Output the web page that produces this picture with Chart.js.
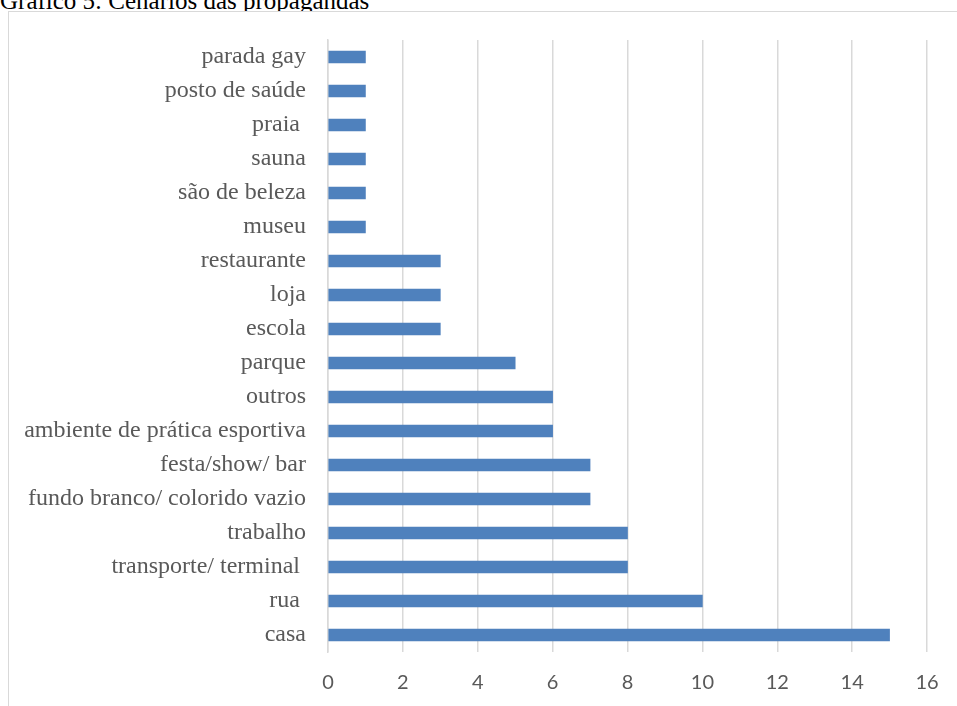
<!DOCTYPE html>
<html>
<head>
<meta charset="utf-8">
<script src="https://cdn.jsdelivr.net/npm/chart.js@4/dist/chart.umd.min.js"></script>
<style>
  html, body { margin: 0; padding: 0; background: #fff; overflow: hidden; }
  body { width: 957px; height: 706px; position: relative; }
  .title {
    position: absolute; left: 0; top: -12px; line-height: 25px;
    font-family: "Liberation Serif", "Times New Roman", serif;
    font-size: 25px; color: #000; white-space: nowrap;
  }
  .frame {
    position: absolute; left: 8px; top: 11px; width: 960px; height: 720px;
    border: 1.5px solid #d9d9d9; box-sizing: border-box; background: #fff;
  }
  #chartWrap { position: absolute; left: 0; top: 0; width: 957px; height: 706px; }
</style>
</head>
<body>
<div class="title">Gráfico 5: Cenários das propagandas</div>
<div class="frame"></div>
<div id="chartWrap"><canvas id="scenarioChart"></canvas></div>
<script>
// Cenários (top to bottom as shown)
const scenarios = [
    'parada gay', 'posto de saúde', 'praia ', 'sauna', 'são de beleza', 'museu',
    'restaurante', 'loja', 'escola', 'parque', 'outros',
    'ambiente de prática esportiva', 'festa/show/ bar', 'fundo branco/ colorido vazio',
    'trabalho', 'transporte/ terminal ', 'rua ', 'casa'
];
const counts = [1, 1, 1, 1, 1, 1, 3, 3, 3, 5, 6, 6, 7, 7, 8, 8, 10, 15];
const xMin = 0;
const xMax = 16;
const xStep = 2;

const ctx = document.getElementById('scenarioChart').getContext('2d');

new Chart(ctx, {
    type: 'bar',
    data: {
        labels: scenarios,
        datasets: [{
            data: counts,
            backgroundColor: '#4f81bd',
            borderWidth: 0,
            barThickness: 12
        }]
    },
    options: {
        indexAxis: 'y',
        responsive: true,
        maintainAspectRatio: false,
        animation: false,
        layout: { padding: { top: 40, right: 30, left: 0, bottom: 0 } },
        plugins: {
            legend: { display: false },
            tooltip: { enabled: false }
        },
        scales: {
            x: {
                min: xMin,
                max: xMax,
                ticks: {
                    stepSize: xStep,
                    color: '#595959',
                    padding: 3,
                    // tall line height pushes the labels down (keeps right overhang small)
                    font: { family: 'Lato, "Open Sans", sans-serif', size: 20, lineHeight: '56px' }
                },
                grid: { color: '#d9d9d9', lineWidth: 1.5, drawTicks: false },
                border: { display: false },
                afterFit: (scale) => { scale.height = 54; }
            },
            y: {
                ticks: {
                    color: '#595959',
                    padding: 22,
                    autoSkip: false,
                    font: { family: '"Liberation Serif", "Times New Roman", serif', size: 24 }
                },
                grid: { display: false, drawTicks: false },
                border: { display: true, color: '#d9d9d9', width: 1.5 },
                afterFit: (scale) => { scale.width = 328; }
            }
        }
    }
});
</script>
</body>
</html>
